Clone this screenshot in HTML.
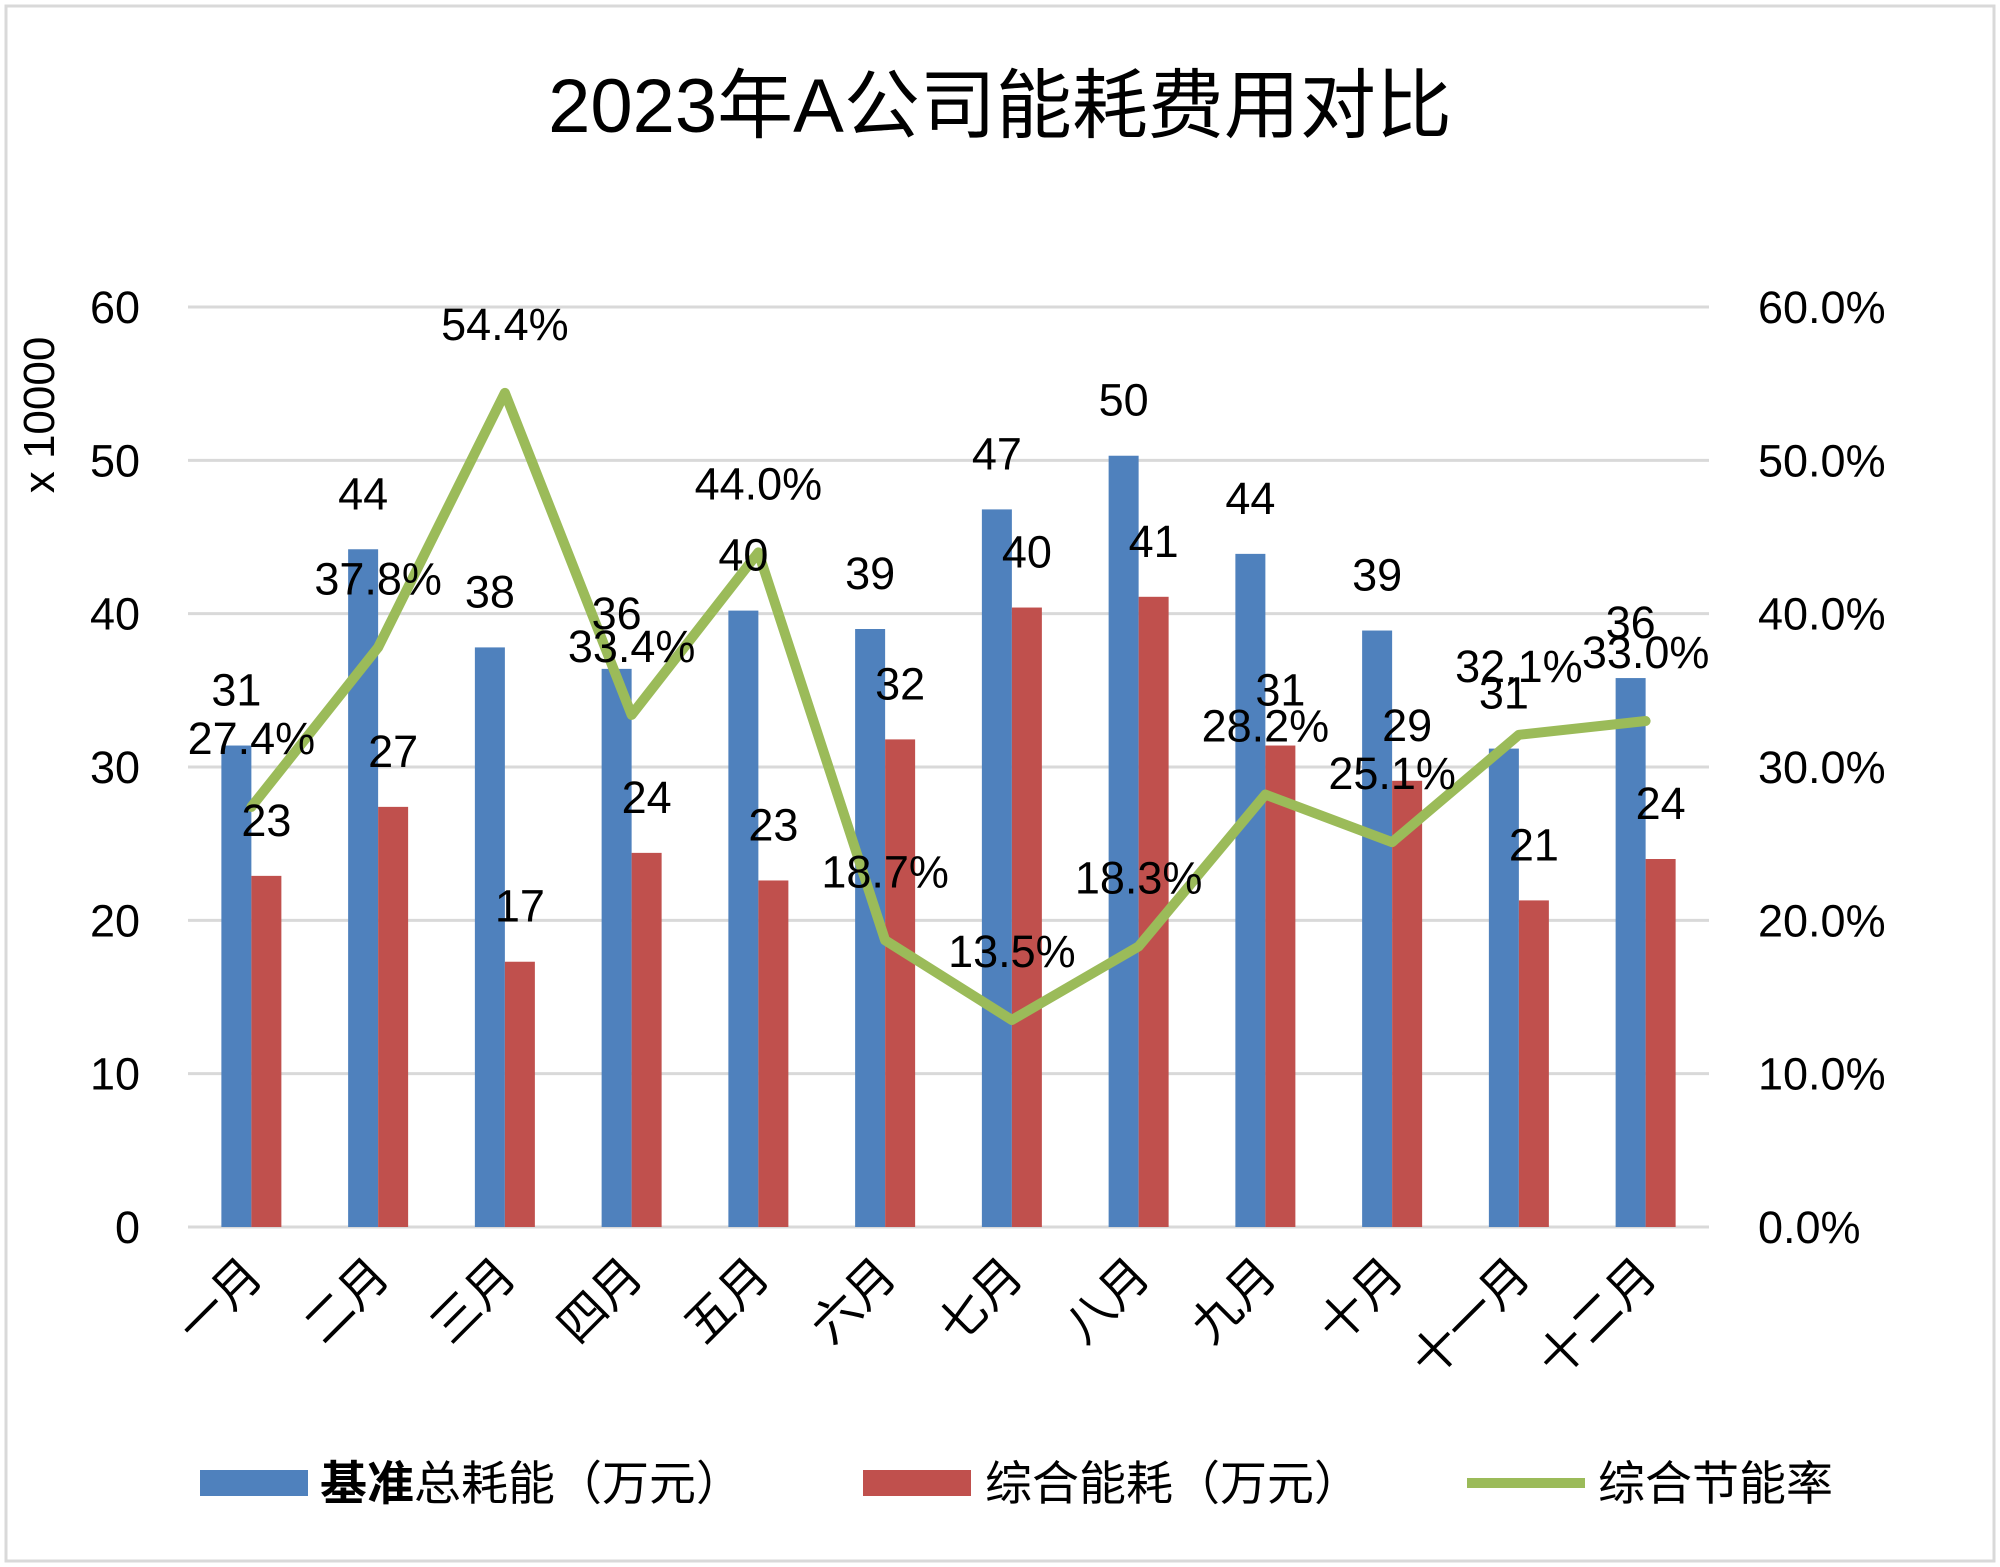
<!DOCTYPE html>
<html><head><meta charset="utf-8">
<style>
html,body{margin:0;padding:0;background:#fff;}
svg{display:block;}
text{font-family:"Liberation Sans","Noto Sans CJK SC",sans-serif;fill:#000;}
</style></head>
<body>
<svg id="chart" width="2000" height="1567" viewBox="0 0 2000 1567">
<rect x="6" y="6" width="1988" height="1555" fill="#fff" stroke="#d9d9d9" stroke-width="3"/>
<text x="1000" y="132" font-size="76" text-anchor="middle">2023年A公司能耗费用对比</text>
<text transform="translate(54,415) rotate(-90)" font-size="44" text-anchor="middle">x 10000</text>
<g id="grid"></g><g id="bars"></g><g id="line"></g><g id="labels"></g><g id="axes"></g>
<g>
<rect x="200" y="1470" width="108" height="26" fill="#4f81bd"/>
<text x="320" y="1500" font-size="47"><tspan font-weight="bold">基准</tspan>总耗能（万元）</text>
<rect x="863" y="1470" width="108" height="26" fill="#c0504d"/>
<text x="985" y="1500" font-size="47">综合能耗（万元）</text>
<line x1="1467" y1="1483" x2="1585" y2="1483" stroke="#9bbb59" stroke-width="10"/>
<text x="1598" y="1500" font-size="47">综合节能率</text>
</g>
</svg>
<script>
const categories=["一月","二月","三月","四月","五月","六月","七月","八月","九月","十月","十一月","十二月"];
const baselineValues=[31.4,44.2,37.8,36.4,40.2,39.0,46.8,50.3,43.9,38.9,31.2,35.8];
const actualValues=[22.9,27.4,17.3,24.4,22.6,31.8,40.4,41.1,31.4,29.1,21.3,24.0];
const rateValues=[27.4,37.8,54.4,33.4,44.0,18.7,13.5,18.3,28.2,25.1,32.1,33.0];
const leftTicks=[0,10,20,30,40,50,60];
const rightTicks=["0.0%","10.0%","20.0%","30.0%","40.0%","50.0%","60.0%"];

const NS="http://www.w3.org/2000/svg";
const X0=188,X1=1709,Y0=1227,Y60=307;
const band=(X1-X0)/categories.length;
const bw=30;
function y(v){return Y0-(v/60)*(Y0-Y60);}
function yr(p){return Y0-(p/60)*(Y0-Y60);}
function cx(i){return X0+band*(i+0.5);}
function mk(tag,attrs,parent){const e=document.createElementNS(NS,tag);for(const k in attrs)e.setAttribute(k,attrs[k]);document.getElementById(parent).appendChild(e);return e;}

leftTicks.forEach((t,i)=>{
  const g=mk('line',{x1:X0,x2:X1,y1:y(t),y2:y(t),stroke:'#d9d9d9','stroke-width':3},'grid');
  
  
  const l=mk('text',{x:140,y:y(t)+16,'font-size':45,'text-anchor':'end'},'axes');
  l.textContent=t;
  
  
  const r=mk('text',{x:1758,y:y(t)+16,'font-size':45},'axes');
  r.textContent=rightTicks[i];
  
  
});

categories.forEach((c,i)=>{
  const b=mk('rect',{x:cx(i)-bw,y:y(baselineValues[i]),width:bw,height:Y0-y(baselineValues[i]),fill:'#4f81bd'},'bars');
  
  
  const r=mk('rect',{x:cx(i),y:y(actualValues[i]),width:bw,height:Y0-y(actualValues[i]),fill:'#c0504d'},'bars');
  
  
  const bl=mk('text',{x:cx(i)-bw/2,y:y(baselineValues[i])-40,'font-size':45,'text-anchor':'middle'},'labels');
  bl.textContent=Math.round(baselineValues[i]);
  
  
  const rl=mk('text',{x:cx(i)+bw/2,y:y(actualValues[i])-40,'font-size':45,'text-anchor':'middle'},'labels');
  rl.textContent=Math.round(actualValues[i]);
  
  
  const pl=mk('text',{x:cx(i),y:yr(rateValues[i])-53,'font-size':45,'text-anchor':'middle'},'labels');
  pl.textContent=rateValues[i].toFixed(1)+'%';
  
  
  const xl=mk('text',{transform:`translate(${cx(i)+14},1278) rotate(-45)`,'font-size':48,'text-anchor':'end'},'axes');
  xl.textContent=c;
  
  
});

const pts=rateValues.map((p,i)=>cx(i)+','+yr(p)).join(' ');
const pl=mk('polyline',{points:pts,fill:'none',stroke:'#9bbb59','stroke-width':10,'stroke-linejoin':'round','stroke-linecap':'round'},'line');


</script>
</body></html>
